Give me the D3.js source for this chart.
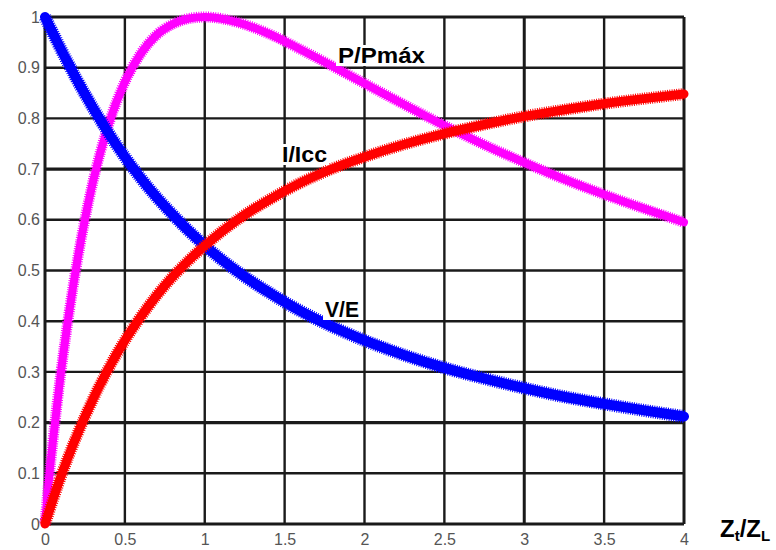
<!DOCTYPE html>
<html>
<head>
<meta charset="utf-8">
<script src="https://cdn.jsdelivr.net/npm/d3@7"></script>
<style>
  html, body { margin: 0; padding: 0; background: #fff; }
  svg { display: block; }
</style>
</head>
<body>
<svg id="chart" width="776" height="550"></svg>
<script>
// ---- data ----
const xValues = [0, 0.025, 0.05, 0.1, 0.15, 0.2, 0.3, 0.4, 0.5, 0.6, 0.7, 0.8, 0.9, 1.0,
                 1.2, 1.4, 1.6, 1.8, 2.0, 2.25, 2.5, 2.75, 3.0, 3.25, 3.5, 3.75, 4.0];
const vE    = [1.000, 0.984, 0.968, 0.936, 0.906, 0.876, 0.821, 0.770, 0.724, 0.682, 0.644, 0.610, 0.578, 0.549,
               0.499, 0.457, 0.420, 0.389, 0.362, 0.333, 0.308, 0.287, 0.268, 0.251, 0.237, 0.224, 0.212];
const iIcc  = [0.000, 0.024, 0.048, 0.094, 0.136, 0.175, 0.246, 0.308, 0.362, 0.409, 0.451, 0.488, 0.520, 0.549,
               0.599, 0.639, 0.673, 0.701, 0.724, 0.749, 0.770, 0.788, 0.804, 0.817, 0.829, 0.839, 0.848];
const pPmax = [0.000, 0.090, 0.165, 0.300, 0.415, 0.515, 0.675, 0.790, 0.872, 0.928, 0.965, 0.986, 0.997, 1.000,
               0.990, 0.967, 0.936, 0.903, 0.869, 0.827, 0.786, 0.748, 0.713, 0.680, 0.650, 0.622, 0.595];
const xTicks = [0, 0.5, 1, 1.5, 2, 2.5, 3, 3.5, 4];
const xTickLabels = ["0", "0.5", "1", "1.5", "2", "2.5", "3", "3.5", "4"];
const yTicks = [0, 0.1, 0.2, 0.3, 0.4, 0.5, 0.6, 0.7, 0.8, 0.9, 1];
const yTickLabels = ["0", "0.1", "0.2", "0.3", "0.4", "0.5", "0.6", "0.7", "0.8", "0.9", "1"];
const seriesNames = ["P/Pmáx", "V/E", "I/Icc"];
const seriesColors = ["#ff00ff", "#0000ff", "#ff0000"];

// ---- layout ----
const svg = d3.select("#chart");
const L = 45, R = 684, T = 17, B = 524;
const x = d3.scaleLinear().domain([0, 4]).range([L, R]);
const y = d3.scaleLinear().domain([0, 1]).range([B, T]);

// grid
const grid = svg.append("g");
grid.selectAll("line.v").data(xTicks).enter().append("line")
  .attr("x1", d => x(d)).attr("x2", d => x(d))
  .attr("y1", T).attr("y2", B)
  .attr("stroke", "#1a1a1a")
  .attr("stroke-width", d => (d === 0 || d === 4 || d === 3) ? 3 : 2.4);
grid.selectAll("line.h").data(yTicks).enter().append("line")
  .attr("x1", L).attr("x2", R)
  .attr("y1", d => y(d)).attr("y2", d => y(d))
  .attr("stroke", "#1a1a1a")
  .attr("stroke-width", d => (Math.abs(d - 0.2) < 1e-6 || Math.abs(d - 0.7) < 1e-6 || d === 0 || d === 1) ? 3.2 : 2.4);

// tick labels
const xAxis = d3.axisBottom(x).tickValues(xTicks).tickSize(0).tickPadding(0)
  .tickFormat((d, i) => xTickLabels[i]);
const gx = svg.append("g").attr("transform", `translate(0,${B + 10})`).call(xAxis);
gx.select(".domain").remove();
gx.selectAll("text").attr("fill", "#555").attr("font-size", 16)
  .attr("font-family", "Liberation Sans, Arial, sans-serif").attr("dy", "0.71em");

const yAxis = d3.axisLeft(y).tickValues(yTicks).tickSize(0).tickPadding(0)
  .tickFormat((d, i) => yTickLabels[i]);
const gy = svg.append("g").attr("transform", `translate(${L - 5},0)`).call(yAxis);
gy.select(".domain").remove();
gy.selectAll("text").attr("fill", "#555").attr("font-size", 16)
  .attr("font-family", "Liberation Sans, Arial, sans-serif");

// curves: solid core plus a finely dashed fringe for the marker-like jagged edge
const series = [pPmax, vE, iIcc];
const widths = [8, 10, 9];
const line = d3.line().x((d, i) => x(xValues[i])).y(d => y(d)).curve(d3.curveMonotoneX);
series.forEach((s, k) => {
  svg.append("path").datum(s)
    .attr("d", line)
    .attr("fill", "none")
    .attr("stroke", seriesColors[k])
    .attr("stroke-width", widths[k] + 3)
    .attr("stroke-dasharray", "1 1.3")
    .attr("stroke-linejoin", "round");
  svg.append("path").datum(s)
    .attr("d", line)
    .attr("fill", "none")
    .attr("stroke", seriesColors[k])
    .attr("stroke-width", widths[k])
    .attr("stroke-linecap", "round")
    .attr("stroke-linejoin", "round");
});

// series labels (with white background)
const labels = [
  { text: seriesNames[0], x: 338, y: 63, w: 87 },
  { text: seriesNames[2], x: 282, y: 162, w: 45 },
  { text: seriesNames[1], x: 325, y: 317, w: 34 }
];
labels.forEach(l => {
  svg.append("rect").attr("x", l.x - 2).attr("y", l.y - 18).attr("width", l.w + 4).attr("height", 21)
    .attr("fill", "#fff");
  svg.append("text").attr("x", l.x).attr("y", l.y)
    .attr("font-family", "Liberation Sans, Arial, sans-serif")
    .attr("font-weight", "bold").attr("font-size", 22)
    .attr("textLength", l.w).attr("lengthAdjust", "spacingAndGlyphs")
    .attr("fill", "#000").text(l.text);
});

// x-axis title Zt/ZL
const title = svg.append("text").attr("x", 720).attr("y", 537)
  .attr("font-family", "Liberation Sans, Arial, sans-serif")
  .attr("font-weight", "bold").attr("font-size", 24).attr("fill", "#000");
title.append("tspan").text("Z");
title.append("tspan").attr("font-size", 15).attr("dy", 4).text("t");
title.append("tspan").attr("dy", -4).text("/Z");
title.append("tspan").attr("font-size", 15).attr("dy", 4).text("L");
</script>
</body>
</html>
